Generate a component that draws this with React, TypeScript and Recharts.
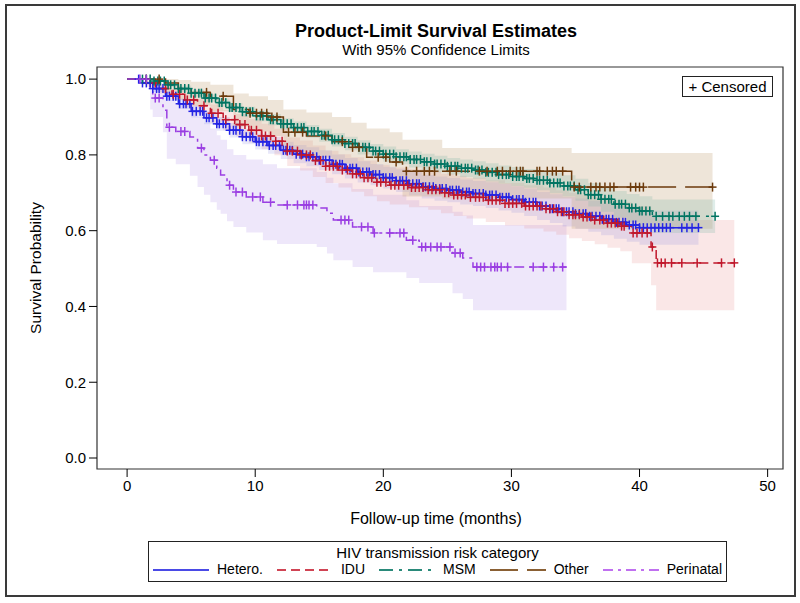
import React from 'react';
import { ComposedChart, Line, Area, Scatter, XAxis, YAxis, ReferenceArea, Legend } from 'recharts';

const FONT = '"Liberation Sans", Arial, Helvetica, sans-serif';

// ---------- Tick labels ----------
const xTicks = [0, 10, 20, 30, 40, 50];
const yTicks = [0, 0.2, 0.4, 0.6, 0.8, 1.0];

// ---------- Hetero. ----------
const heteroT = [0, 1.2, 2, 3, 4, 5, 6, 7, 8, 9, 10, 11, 12, 13, 14, 15, 16, 17, 18, 19, 20, 21, 22, 23, 24, 25, 26, 27, 28, 29, 30, 31, 32, 33, 34, 35, 36, 37, 38, 39, 40, 44.6];
const heteroS = [1, 0.99, 0.975, 0.955, 0.935, 0.915, 0.898, 0.882, 0.865, 0.848, 0.835, 0.825, 0.812, 0.802, 0.795, 0.786, 0.775, 0.765, 0.755, 0.748, 0.74, 0.732, 0.724, 0.716, 0.711, 0.707, 0.702, 0.698, 0.694, 0.688, 0.682, 0.675, 0.665, 0.658, 0.65, 0.645, 0.638, 0.63, 0.622, 0.615, 0.608, 0.608];
const heteroLo = [1, 0.985, 0.966, 0.943, 0.921, 0.899, 0.881, 0.864, 0.846, 0.828, 0.814, 0.803, 0.789, 0.778, 0.77, 0.76, 0.749, 0.738, 0.727, 0.72, 0.711, 0.702, 0.693, 0.685, 0.679, 0.675, 0.669, 0.665, 0.66, 0.653, 0.647, 0.639, 0.628, 0.62, 0.611, 0.605, 0.597, 0.588, 0.579, 0.571, 0.563, 0.563];
const heteroHi = [1, 0.995, 0.984, 0.967, 0.949, 0.931, 0.915, 0.9, 0.884, 0.868, 0.856, 0.847, 0.835, 0.826, 0.82, 0.812, 0.801, 0.792, 0.783, 0.776, 0.769, 0.762, 0.755, 0.747, 0.743, 0.739, 0.735, 0.731, 0.728, 0.723, 0.717, 0.711, 0.702, 0.696, 0.689, 0.685, 0.679, 0.672, 0.665, 0.659, 0.653, 0.653];
const heteroC = [0.9, 1.2, 1.5, 1.8, 2.0, 2.3, 2.5, 2.8, 3.1, 3.3, 3.6, 3.8, 4.1, 4.4, 4.6, 4.9, 5.1, 5.4, 5.7, 5.9, 6.2, 6.4, 6.7, 7.0, 7.2, 7.5, 7.7, 8.0, 8.3, 8.5, 8.8, 9.0, 9.3, 9.6, 9.8, 10.1, 10.3, 10.6, 10.9, 11.1, 11.4, 11.6, 11.9, 12.2, 12.4, 12.7, 12.9, 13.2, 13.5, 13.7, 14.0, 14.2, 14.5, 14.8, 15.0, 15.3, 15.5, 15.8, 16.1, 16.3, 16.6, 16.8, 17.1, 17.4, 17.6, 17.9, 18.1, 18.4, 18.7, 18.9, 19.2, 19.4, 19.7, 20.0, 20.2, 20.5, 20.7, 21.0, 21.3, 21.5, 21.8, 22.0, 22.3, 22.6, 22.8, 23.1, 23.3, 23.6, 23.9, 24.1, 24.4, 24.6, 24.9, 25.2, 25.4, 25.7, 25.9, 26.2, 26.5, 26.7, 27.0, 27.2, 27.5, 27.8, 28.0, 28.3, 28.5, 28.8, 29.1, 29.3, 29.6, 29.8, 30.1, 30.4, 30.6, 30.9, 31.1, 31.4, 31.7, 31.9, 32.2, 32.4, 32.7, 33.0, 33.2, 33.5, 33.7, 34.0, 34.3, 34.5, 34.8, 35.0, 35.3, 35.6, 35.8, 36.1, 36.3, 36.6, 36.9, 37.1, 37.4, 37.6, 37.9, 38.2, 38.4, 38.7, 38.9, 39.2, 39.5, 39.7, 40.0, 40.3, 40.6, 40.9, 41.2, 41.5, 41.8, 42.1, 42.4, 43.3, 43.7, 44.1, 44.6];

// ---------- IDU ----------
const iduT = [0, 1.5, 2.5, 3.5, 4.5, 5.5, 6.5, 7.5, 8.5, 9.5, 10.5, 11.5, 12.5, 13.5, 14.5, 15.5, 16.5, 17.5, 18.5, 19.5, 20.5, 22, 23.5, 24.5, 25.5, 26.5, 28, 29.5, 31, 32.5, 33.5, 34.5, 35.5, 36.5, 37.5, 38.5, 39.4, 40.9, 41.3, 47.4];
const iduS = [1, 0.99, 0.975, 0.96, 0.945, 0.93, 0.91, 0.893, 0.88, 0.865, 0.85, 0.836, 0.81, 0.8, 0.785, 0.77, 0.76, 0.75, 0.74, 0.728, 0.72, 0.714, 0.708, 0.7, 0.694, 0.688, 0.68, 0.672, 0.665, 0.658, 0.65, 0.642, 0.636, 0.628, 0.62, 0.612, 0.594, 0.557, 0.515, 0.515];
const iduLo = [1, 0.98, 0.962, 0.944, 0.926, 0.908, 0.885, 0.865, 0.849, 0.832, 0.815, 0.799, 0.771, 0.759, 0.742, 0.726, 0.714, 0.703, 0.691, 0.678, 0.669, 0.662, 0.655, 0.646, 0.639, 0.632, 0.623, 0.614, 0.606, 0.598, 0.589, 0.58, 0.573, 0.564, 0.555, 0.546, 0.514, 0.456, 0.39, 0.39];
const iduHi = [1, 0.997, 0.986, 0.974, 0.962, 0.949, 0.933, 0.918, 0.908, 0.895, 0.882, 0.869, 0.846, 0.838, 0.825, 0.811, 0.802, 0.794, 0.785, 0.774, 0.767, 0.762, 0.757, 0.75, 0.745, 0.74, 0.733, 0.726, 0.72, 0.714, 0.707, 0.7, 0.695, 0.688, 0.681, 0.675, 0.665, 0.64, 0.628, 0.628];
const iduC = [2.2, 3.0, 3.6, 4.1, 4.7, 5.2, 6.0, 6.6, 7.1, 7.7, 8.4, 8.8, 9.2, 9.7, 10.1, 10.5, 10.8, 11.2, 11.6, 12.1, 12.5, 12.9, 13.3, 13.6, 14.0, 14.3, 14.7, 15.1, 15.5, 15.8, 16.1, 16.4, 16.8, 17.2, 17.6, 17.9, 18.2, 18.5, 18.8, 19.1, 19.5, 19.8, 20.2, 20.6, 20.9, 21.2, 21.6, 21.9, 22.2, 22.5, 22.8, 23.1, 23.5, 23.8, 24.1, 24.4, 24.8, 25.1, 25.5, 25.8, 26.1, 26.4, 26.8, 27.2, 27.5, 27.8, 28.2, 28.5, 28.8, 29.1, 29.5, 29.8, 30.1, 30.4, 30.8, 31.1, 31.4, 31.7, 32.0, 32.3, 32.7, 33.0, 33.3, 33.6, 33.9, 34.1, 34.5, 34.8, 35.0, 35.3, 35.6, 35.9, 36.2, 36.5, 36.9, 37.2, 37.5, 37.8, 38.1, 38.3, 38.6, 38.8, 39.5, 39.8, 40.2, 40.6, 41.0, 41.4, 41.7, 42.0, 42.5, 43.3, 44.5, 46.4, 47.4];

// ---------- MSM ----------
const msmT = [0, 2, 3, 4, 5, 6, 7, 8, 9, 10, 11, 12, 13, 14, 15, 16, 17, 18, 19, 20, 21, 22, 23, 24, 25, 26, 27, 28, 29, 30, 31, 32, 33, 34, 35, 36, 37, 38, 39, 40, 41, 45.9];
const msmS = [1, 0.995, 0.985, 0.975, 0.963, 0.95, 0.938, 0.925, 0.914, 0.903, 0.893, 0.882, 0.872, 0.862, 0.852, 0.84, 0.83, 0.82, 0.81, 0.802, 0.795, 0.788, 0.782, 0.776, 0.77, 0.765, 0.76, 0.754, 0.748, 0.743, 0.738, 0.733, 0.726, 0.718, 0.708, 0.695, 0.683, 0.67, 0.66, 0.652, 0.638, 0.638];
const msmLo = [1, 0.991, 0.979, 0.967, 0.954, 0.94, 0.927, 0.913, 0.901, 0.889, 0.878, 0.867, 0.856, 0.845, 0.835, 0.822, 0.812, 0.801, 0.791, 0.782, 0.775, 0.767, 0.761, 0.754, 0.748, 0.742, 0.737, 0.73, 0.724, 0.718, 0.713, 0.707, 0.699, 0.69, 0.679, 0.664, 0.65, 0.635, 0.623, 0.613, 0.594, 0.594];
const msmHi = [1, 0.999, 0.991, 0.983, 0.972, 0.96, 0.949, 0.937, 0.927, 0.917, 0.908, 0.897, 0.888, 0.879, 0.869, 0.858, 0.848, 0.839, 0.829, 0.822, 0.815, 0.809, 0.803, 0.798, 0.792, 0.788, 0.783, 0.778, 0.772, 0.768, 0.763, 0.759, 0.753, 0.746, 0.737, 0.726, 0.716, 0.705, 0.697, 0.691, 0.682, 0.682];
const msmC = [1.2, 1.5, 1.8, 2.1, 2.4, 2.6, 2.9, 3.2, 3.4, 3.7, 4.0, 4.2, 4.5, 4.8, 5.0, 5.3, 5.6, 5.8, 6.1, 6.4, 6.6, 6.9, 7.2, 7.4, 7.7, 8.0, 8.2, 8.5, 8.8, 9.0, 9.3, 9.6, 9.8, 10.1, 10.4, 10.6, 10.9, 11.2, 11.4, 11.7, 12.0, 12.2, 12.5, 12.8, 13.0, 13.3, 13.6, 13.8, 14.1, 14.4, 14.6, 14.9, 15.2, 15.4, 15.7, 16.0, 16.2, 16.5, 16.8, 17.0, 17.3, 17.6, 17.8, 18.1, 18.4, 18.6, 18.9, 19.2, 19.4, 19.7, 20.0, 20.2, 20.5, 20.8, 21.0, 21.3, 21.6, 21.8, 22.1, 22.4, 22.6, 22.9, 23.2, 23.4, 23.7, 24.0, 24.2, 24.5, 24.8, 25.0, 25.3, 25.6, 25.8, 26.1, 26.4, 26.6, 26.9, 27.2, 27.4, 27.7, 28.0, 28.2, 28.5, 28.8, 29.0, 29.3, 29.6, 29.8, 30.1, 30.4, 30.6, 30.9, 31.2, 31.4, 31.7, 32.0, 32.2, 32.5, 32.8, 33.0, 33.3, 33.6, 33.8, 34.1, 34.4, 34.6, 34.9, 35.2, 35.4, 35.7, 36.0, 36.2, 36.5, 36.8, 37.0, 37.3, 37.6, 37.8, 38.1, 38.4, 38.6, 38.9, 39.2, 39.4, 39.7, 40.0, 40.2, 40.5, 40.8, 41.3, 41.8, 42.3, 42.6, 43.1, 43.5, 43.9, 44.4, 45.9];

// ---------- Other ----------
const othT = [0, 3, 4, 5, 6.5, 8.3, 9.5, 11, 12.2, 14, 16, 17.5, 18.7, 20.5, 21.5, 24.6, 34.7, 45.7];
const othS = [1, 0.99, 0.975, 0.965, 0.955, 0.92, 0.91, 0.9, 0.86, 0.85, 0.835, 0.82, 0.794, 0.781, 0.757, 0.757, 0.715, 0.715];
const othLo = [1, 0.965, 0.945, 0.93, 0.915, 0.875, 0.862, 0.85, 0.805, 0.793, 0.777, 0.76, 0.732, 0.718, 0.69, 0.685, 0.605, 0.605];
const othHi = [1, 1, 0.998, 0.993, 0.985, 0.962, 0.955, 0.945, 0.92, 0.912, 0.9, 0.885, 0.87, 0.86, 0.84, 0.818, 0.805, 0.805];
const othC = [1.5, 2.5, 6.2, 7.5, 9.6, 10.1, 10.5, 10.9, 11.3, 11.7, 12.6, 13.1, 13.7, 15.5, 16.8, 17.6, 18.1, 19.6, 20.2, 21.0, 21.8, 22.6, 23.2, 23.6, 24.0, 25.2, 25.7, 27.5, 28.1, 28.9, 29.3, 29.9, 30.4, 30.7, 30.9, 32.0, 32.2, 32.8, 33.2, 33.5, 34.0, 34.9, 35.3, 36.2, 36.6, 36.9, 37.3, 37.7, 38.0, 39.3, 39.7, 40.0, 40.3, 45.7];

// ---------- Perinatal ----------
const perT = [0, 1.8, 2.0, 2.8, 3.1, 3.8, 4.9, 5.5, 6.0, 6.5, 7.0, 7.3, 7.8, 8.3, 9.3, 10.6, 11.7, 14.8, 15.6, 16.1, 17.6, 19.2, 21.8, 22.8, 25.4, 26.2, 27.0, 34.3];
const perS = [1, 0.966, 0.95, 0.918, 0.873, 0.862, 0.847, 0.818, 0.8, 0.786, 0.765, 0.747, 0.72, 0.702, 0.689, 0.675, 0.668, 0.66, 0.646, 0.628, 0.61, 0.594, 0.575, 0.557, 0.541, 0.528, 0.504, 0.504];
const perLo = [1, 0.92, 0.9, 0.86, 0.79, 0.775, 0.745, 0.715, 0.695, 0.675, 0.655, 0.645, 0.625, 0.61, 0.595, 0.575, 0.565, 0.557, 0.54, 0.522, 0.504, 0.49, 0.475, 0.462, 0.435, 0.42, 0.39, 0.39];
const perHi = [1, 0.995, 0.99, 0.975, 0.945, 0.937, 0.925, 0.9, 0.885, 0.87, 0.852, 0.84, 0.815, 0.8, 0.788, 0.775, 0.765, 0.755, 0.74, 0.725, 0.71, 0.695, 0.68, 0.665, 0.65, 0.64, 0.615, 0.615];
const perC = [1.0, 1.5, 2.2, 2.5, 3.3, 4.2, 4.5, 5.8, 6.8, 8.0, 8.5, 9.0, 9.8, 10.4, 11.2, 12.5, 13.3, 13.8, 14.0, 14.2, 14.5, 16.7, 17.0, 17.3, 18.3, 18.8, 19.3, 20.5, 21.3, 21.6, 22.3, 23.0, 23.3, 23.7, 24.2, 24.5, 25.2, 25.6, 26.0, 27.3, 27.6, 27.9, 28.4, 28.7, 28.9, 29.2, 29.7, 31.7, 32.5, 33.3, 34.0];

// ---------- helpers ----------
type Pt = { t: number; s: number; r: [number, number] };
const build = (T: number[], S: number[], Lo: number[], Hi: number[]): Pt[] =>
  T.map((t, i) => ({ t, s: S[i], r: [Lo[i], Hi[i]] as [number, number] }));
const censorPts = (C: number[], T: number[], S: number[]) =>
  C.map((c) => {
    let k = 0;
    for (let i = 0; i < T.length; i++) if (T[i] <= c) k = i;
    return { t: c, s: S[k] };
  });

const groups = [
  { name: 'Hetero.', color: '#2424e4', legend: '#4a4ae6', dash: undefined as string | undefined, band: '#8c8ce0', bandOp: 0.2, data: build(heteroT, heteroS, heteroLo, heteroHi), cens: censorPts(heteroC, heteroT, heteroS) },
  { name: 'IDU', color: '#c0182c', legend: '#d04454', dash: '9 5', band: '#e89090', bandOp: 0.22, data: build(iduT, iduS, iduLo, iduHi), cens: censorPts(iduC, iduT, iduS) },
  { name: 'MSM', color: '#007462', legend: '#2a8a7a', dash: '14 6 3 6', band: '#80b8a8', bandOp: 0.25, data: build(msmT, msmS, msmLo, msmHi), cens: censorPts(msmC, msmT, msmS) },
  { name: 'Other', color: '#6c3a0c', legend: '#8a6034', dash: '28 9', band: '#c8a880', bandOp: 0.3, data: build(othT, othS, othLo, othHi), cens: censorPts(othC, othT, othS) },
  { name: 'Perinatal', color: '#9a3ee2', legend: '#c070f0', dash: '10 5 3 5', band: '#c8b0f0', bandOp: 0.3, data: build(perT, perS, perLo, perHi), cens: censorPts(perC, perT, perS) },
];

const bandOrder = [4, 1, 0, 3, 2];

const makePlus = (color: string) => (props: any) => {
  const { cx, cy } = props;
  if (cx == null || cy == null) return <g />;
  return (
    <g stroke={color} strokeWidth={1.5}>
      <line x1={cx - 4} x2={cx + 4} y1={cy} y2={cy} />
      <line x1={cx} x2={cx} y1={cy - 4.5} y2={cy + 4.5} />
    </g>
  );
};

const LegendBox = () => (
  <div
    style={{
      border: '1px solid #222',
      boxSizing: 'border-box',
      width: 579,
      height: 41,
      fontFamily: FONT,
      color: '#000',
      background: '#fff',
    }}
  >
    <div style={{ textAlign: 'center', fontSize: 15, lineHeight: '17px', marginTop: 2 }}>HIV transmission risk category</div>
    <div style={{ display: 'flex', justifyContent: 'center', alignItems: 'center', fontSize: 14, lineHeight: '17px' }}>
      {groups.map((g) => (
        <span key={g.name} style={{ display: 'flex', alignItems: 'center', margin: '0 7px' }}>
          <svg width={56} height={6}>
            <line x1={0} x2={56} y1={3} y2={3} stroke={g.legend} strokeWidth={2} strokeDasharray={g.dash} />
          </svg>
          <span style={{ marginLeft: 8 }}>{g.name}</span>
        </span>
      ))}
    </div>
  </div>
);

const X_DOMAIN: [number, number] = [-2.35, 51.2];
const Y_DOMAIN: [number, number] = [-0.029, 1.032];

export default function App() {
  return (
    <div style={{ position: 'absolute', left: 0, top: 0, width: 800, height: 603, background: '#fff', fontFamily: FONT }}>
      <div style={{ position: 'absolute', left: 5, top: 4, width: 787, height: 589, border: '2px solid #3a3a3a' }} />
      <div style={{ position: 'absolute', left: 0, width: 872, top: 21, textAlign: 'center', fontWeight: 'bold', fontSize: 18, lineHeight: '20px', color: '#000' }}>
        Product-Limit Survival Estimates
      </div>
      <div style={{ position: 'absolute', left: 0, width: 872, top: 41, textAlign: 'center', fontSize: 15, lineHeight: '18px', color: '#000' }}>
        With 95% Confidence Limits
      </div>
      <div
        style={{
          position: 'absolute',
          left: 682,
          top: 76,
          width: 91,
          height: 21,
          boxSizing: 'border-box',
          border: '1px solid #222',
          fontSize: 15,
          lineHeight: '19px',
          textAlign: 'center',
          color: '#000',
          background: '#fff',
          zIndex: 2,
        }}
      >
        + Censored
      </div>
      <ComposedChart width={800} height={603} margin={{ top: 67, right: 17, bottom: 104, left: 37 }}>
        <XAxis
          dataKey="t"
          type="number"
          domain={X_DOMAIN}
          ticks={xTicks}
          allowDataOverflow
          axisLine={false}
          tickSize={8}
          tickMargin={3}
          height={30}
          tickLine={{ stroke: '#000' }}
          tick={{ fill: '#000', fontSize: 15, fontFamily: FONT }}
          label={{
            content: () => (
              <text x={436} y={524} textAnchor="middle" fontSize={16} fontFamily={FONT} fill="#000">
                Follow-up time (months)
              </text>
            ),
          }}
        />
        <YAxis
          type="number"
          domain={Y_DOMAIN}
          ticks={yTicks}
          allowDataOverflow
          axisLine={false}
          width={60}
          tickSize={8}
          tickMargin={3}
          tickLine={{ stroke: '#000' }}
          tickFormatter={(v: number) => v.toFixed(1)}
          tick={{ fill: '#000', fontSize: 15, fontFamily: FONT }}
          label={{
            content: () => (
              <text
                x={35}
                y={268}
                transform="rotate(-90, 35, 268)"
                textAnchor="middle"
                dominantBaseline="central"
                fontSize={15.5}
                fontFamily={FONT}
                fill="#000"
              >
                Survival Probability
              </text>
            ),
          }}
        />
        {bandOrder.map((i) => {
          const g = groups[i];
          return (
            <Area
              key={'band-' + g.name}
              data={g.data}
              dataKey="r"
              type="stepAfter"
              stroke="none"
              fill={g.band}
              fillOpacity={g.bandOp}
              dot={false}
              activeDot={false}
              isAnimationActive={false}
              legendType="none"
            />
          );
        })}
        {groups.map((g) => (
          <Line
            key={'line-' + g.name}
            data={g.data}
            dataKey="s"
            type="stepAfter"
            stroke={g.color}
            strokeWidth={1.5}
            strokeDasharray={g.dash}
            dot={false}
            activeDot={false}
            isAnimationActive={false}
            name={g.name}
          />
        ))}
        {groups.map((g) => (
          <Scatter
            key={'cens-' + g.name}
            data={g.cens}
            dataKey="s"
            shape={makePlus(g.color)}
            isAnimationActive={false}
            legendType="none"
          />
        ))}
        <ReferenceArea
          x1={X_DOMAIN[0]}
          x2={X_DOMAIN[1]}
          y1={Y_DOMAIN[0]}
          y2={Y_DOMAIN[1]}
          fill="none"
          stroke="#333"
          strokeWidth={1.2}
          ifOverflow="visible"
        />
        <Legend
          layout="horizontal"
          verticalAlign="middle"
          align="center"
          content={() => <LegendBox />}
          wrapperStyle={{ left: 148, top: 541, width: 579, height: 41 }}
        />
      </ComposedChart>
    </div>
  );
}
